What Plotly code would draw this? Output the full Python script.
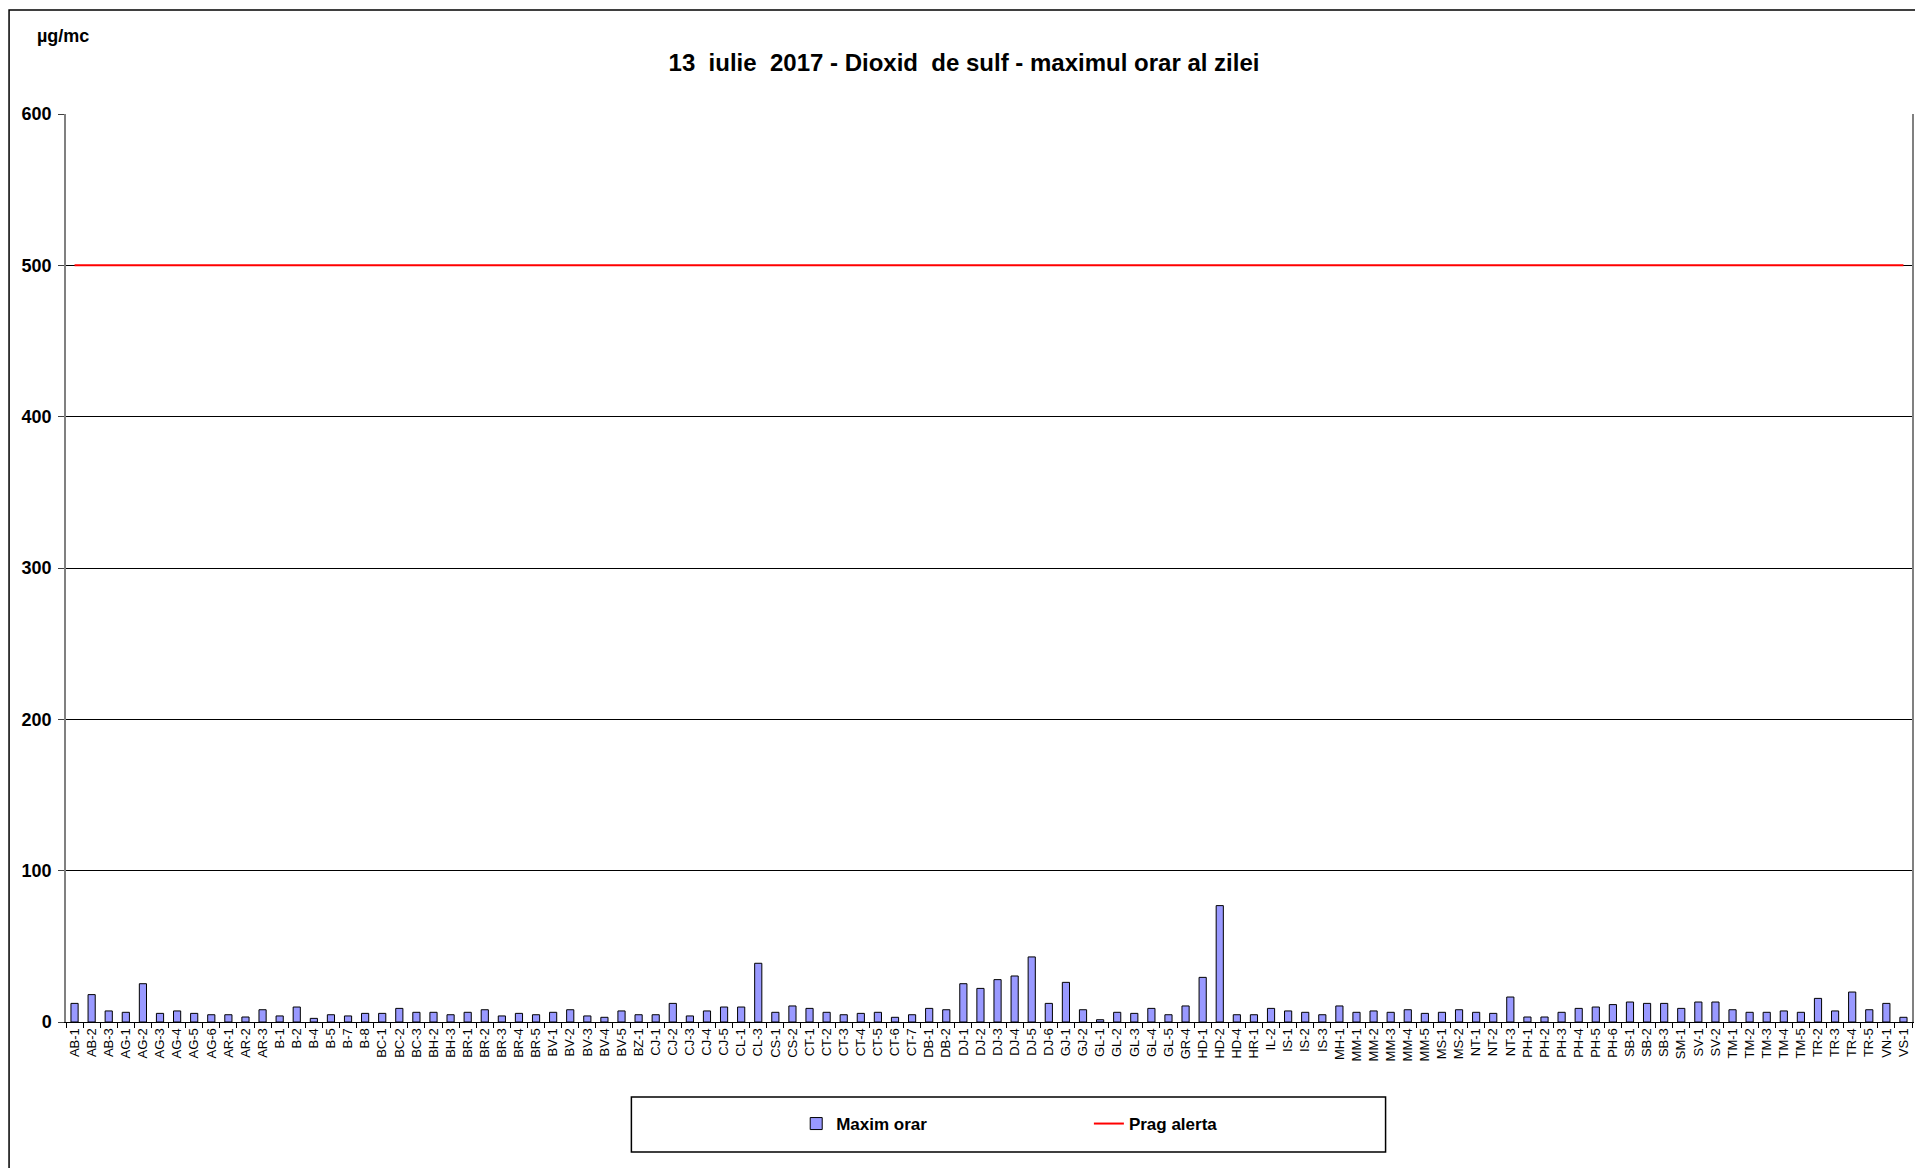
import plotly.graph_objects as go

# ---- data ----
stations = [
    "AB-1", "AB-2", "AB-3", "AG-1", "AG-2", "AG-3", "AG-4", "AG-5", "AG-6", "AR-1", "AR-2", "AR-3",
    "B-1", "B-2", "B-4", "B-5", "B-7", "B-8", "BC-1", "BC-2", "BC-3", "BH-2", "BH-3",
    "BR-1", "BR-2", "BR-3", "BR-4", "BR-5", "BV-1", "BV-2", "BV-3", "BV-4", "BV-5", "BZ-1",
    "CJ-1", "CJ-2", "CJ-3", "CJ-4", "CJ-5", "CL-1", "CL-3", "CS-1", "CS-2",
    "CT-1", "CT-2", "CT-3", "CT-4", "CT-5", "CT-6", "CT-7", "DB-1", "DB-2",
    "DJ-1", "DJ-2", "DJ-3", "DJ-4", "DJ-5", "DJ-6", "GJ-1", "GJ-2",
    "GL-1", "GL-2", "GL-3", "GL-4", "GL-5", "GR-4", "HD-1", "HD-2", "HD-4", "HR-1", "IL-2",
    "IS-1", "IS-2", "IS-3", "MH-1", "MM-1", "MM-2", "MM-3", "MM-4", "MM-5", "MS-1", "MS-2",
    "NT-1", "NT-2", "NT-3", "PH-1", "PH-2", "PH-3", "PH-4", "PH-5", "PH-6",
    "SB-1", "SB-2", "SB-3", "SM-1", "SV-1", "SV-2", "TM-1", "TM-2", "TM-3", "TM-4", "TM-5",
    "TR-2", "TR-3", "TR-4", "TR-5", "VN-1", "VS-1",
]

maxim_orar = [
    12.3, 18.1, 7.3, 6.4, 25.3, 5.7, 7.3, 5.7, 4.8, 4.8, 3.3, 8.1,
    4.0, 9.9, 2.4, 4.8, 4.0, 5.7, 5.7, 9.0, 6.4, 6.4, 4.8,
    6.4, 8.1, 4.0, 5.7, 4.8, 6.4, 8.1, 4.0, 3.1, 7.3, 4.8,
    4.8, 12.3, 4.0, 7.3, 9.9, 9.9, 38.8, 6.4, 10.6,
    9.0, 6.4, 4.8, 5.7, 6.4, 3.1, 4.8, 9.0, 8.1,
    25.3, 22.2, 28.0, 30.4, 43.0, 12.3, 26.2, 8.1,
    1.5, 6.4, 5.7, 9.0, 4.8, 10.6, 29.5, 76.9, 4.8, 4.8, 9.0,
    7.3, 6.4, 4.8, 10.6, 6.4, 7.3, 6.4, 8.1, 5.7, 6.4, 8.1,
    6.4, 5.7, 16.5, 3.3, 3.3, 6.4, 9.0, 9.9, 11.5,
    13.2, 12.3, 12.3, 9.0, 13.2, 13.2, 8.1, 6.4, 6.4, 7.3, 6.4,
    15.6, 7.3, 19.8, 8.1, 12.3, 3.1,
]

prag_alerta_value = 500
prag_alerta = [prag_alerta_value] * len(stations)

title_text = "13  iulie  2017 - Dioxid  de sulf - maximul orar al zilei"
unit_text = "µg/mc"
y_ticks = [0, 100, 200, 300, 400, 500, 600]

# ---- layout geometry (screen pixels; page body has an 8px margin) ----
OFF = 8
W, H = 1923 - OFF, 1168 - OFF
ML, MR, MT, MB = 66 - OFF, 9, 114 - OFF, 146
PW = W - ML - MR
PH = H - MT - MB


def px_x(px):
    return (px - OFF - ML) / PW


def px_y(py):
    return (H - MB - (py - OFF)) / PH


fig = go.Figure()

fig.add_trace(go.Bar(
    x=stations, y=maxim_orar, name="Maxim orar",
    marker=dict(color="#9999FF", line=dict(color="#000000", width=1)),
    width=0.42, legend="legend",
))

fig.add_trace(go.Scatter(
    x=stations, y=prag_alerta, name="Prag alerta", mode="lines",
    line=dict(color="#FF0000", width=2), legend="legend2",
))

font_main = "Arial, Liberation Sans, sans-serif"

fig.update_layout(
    width=W, height=H, autosize=False,
    margin=dict(l=ML, r=MR, t=MT, b=MB, pad=0),
    paper_bgcolor="white", plot_bgcolor="white",
    font=dict(family=font_main, color="black"),
    showlegend=True,
    title=dict(
        text="<b>" + title_text.replace("  ", " \u00a0") + "</b>",
        x=px_x(965), xref="paper", xanchor="center",
        y=1 - (63 - OFF) / H, yref="container", yanchor="middle",
        font=dict(size=24, family=font_main, color="black"),
    ),
    xaxis=dict(
        type="category", tickangle=-90,
        tickfont=dict(size=13, family=font_main, color="black"),
        ticks="outside", ticklen=5, tickcolor="black", tickson="boundaries",
        showline=True, linecolor="black", linewidth=1,
        showgrid=False, range=[-0.5, len(stations) - 0.5],
    ),
    yaxis=dict(
        range=[0, 600], tickvals=y_ticks,
        ticktext=["<b>%d</b>" % v for v in y_ticks],
        tickfont=dict(size=18, family=font_main, color="black"),
        ticks="outside", ticklen=6, tickcolor="#404040",
        ticklabelstandoff=3,
        showline=True, linecolor="#808080", linewidth=1.5, mirror=True,
        showgrid=True, gridcolor="black", gridwidth=1,
        zeroline=False,
    ),
    legend=dict(
        orientation="h", x=px_x(797), xanchor="left",
        y=px_y(1124), yanchor="middle",
        bgcolor="rgba(0,0,0,0)", borderwidth=0,
        font=dict(size=17, family=font_main, color="black", weight="bold"),
    ),
    legend2=dict(
        orientation="h", x=px_x(1090), xanchor="left",
        y=px_y(1124), yanchor="middle",
        bgcolor="rgba(0,0,0,0)", borderwidth=0,
        font=dict(size=17, family=font_main, color="black", weight="bold"),
    ),
    bargap=0.58,
)

# unit label
fig.add_annotation(
    text="<b>" + unit_text + "</b>", xref="paper", yref="paper",
    x=px_x(35), y=px_y(36), xanchor="left", yanchor="middle",
    showarrow=False, font=dict(size=18, family=font_main, color="black"),
)

# legend frame
fig.add_shape(
    type="rect", xref="paper", yref="paper",
    x0=px_x(632), x1=px_x(1387), y0=px_y(1152), y1=px_y(1097),
    line=dict(color="black", width=1.5), fillcolor="rgba(0,0,0,0)", layer="above",
)

# outer chart border
fig.add_shape(
    type="rect", xref="paper", yref="paper",
    x0=px_x(9), x1=px_x(1935), y0=px_y(1185), y1=px_y(10),
    line=dict(color="black", width=1.5), fillcolor="rgba(0,0,0,0)", layer="above",
)

fig.write_html("out.html")
